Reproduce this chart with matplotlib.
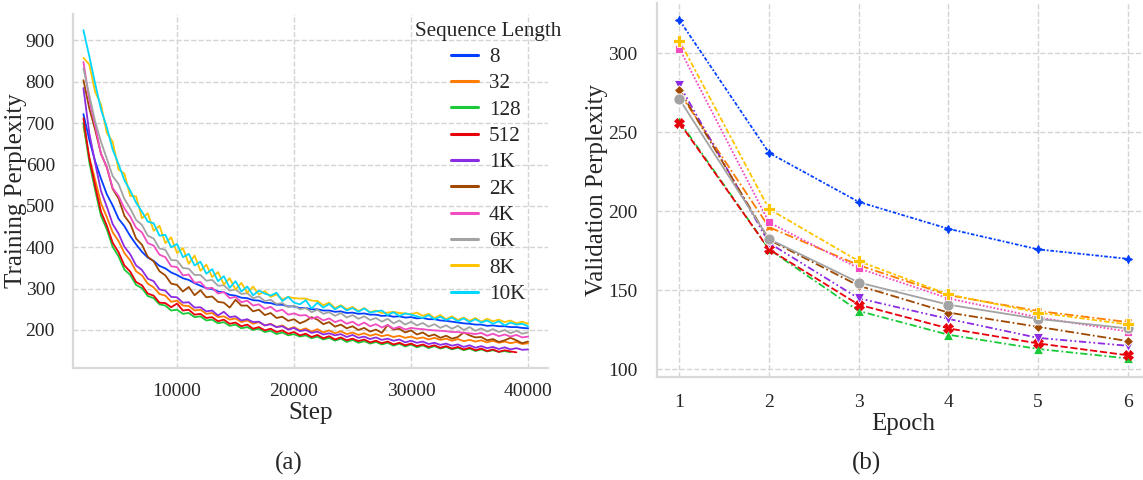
import numpy as np
import matplotlib
matplotlib.use("Agg")
import matplotlib.pyplot as plt
import seaborn as sns

nan = np.nan

# ---- (a) training perplexity, logged every 500 steps ----
steps = list(range(2000, 40001, 500))

ppl_8 = [722, 660, 608, 566, 528, 501, 469, 451, 427, 407,
         389, 375, 367, 355, 349, 339, 333, 325, 321, 313,
         307, 301, 299, 293, 291, 285, 283, 278, 277, 272,
         271, 266, 265, 261, 261, 257, 257, 253, 253, 250,
         250, 247, 247, 244, 245, 241, 242, 239, 240, 237,
         237, 234, 235, 232, 233, 230, 231, 228, 229, 226,
         226, 223, 222, 220, 218, 216, 215, 213, 213, 210,
         211, 209, 209, 207, 207, 205, 204]
ppl_32 = [692, 617, 563, 506, 473, 436, 415, 386, 368, 342,
          332, 312, 303, 287, 283, 268, 271, 259, 258, 247,
          249, 239, 241, 231, 233, 225, 228, 219, 223, 215,
          219, 211, 215, 207, 211, 202, 207, 199, 204, 196,
          202, 194, 199, 192, 197, 190, 194, 188, 192, 186,
          190, 185, 188, 183, 186, 181, 184, 179, 182, 177,
          181, 176, 179, 174, 178, 173, 176, 172, 175, 170,
          174, 169, 172, 168, 171, 166, 168]
ppl_128 = [700, 606, 538, 476, 443, 401, 378, 346, 333, 309,
           301, 282, 277, 262, 259, 247, 249, 239, 241, 231,
           233, 223, 225, 216, 219, 210, 213, 204, 207, 200,
           203, 195, 198, 190, 194, 187, 190, 184, 187, 180,
           184, 177, 181, 174, 179, 171, 176, 169, 173, 167,
           171, 165, 169, 162, 167, 160, 165, 158, 163, 156,
           161, 155, 159, 153, 157, 151, 155, 149, 153, 148,
           151, 147, 149, 146, nan, nan, nan]
ppl_512 = [712, 616, 548, 486, 452, 411, 388, 356, 341, 316,
           308, 288, 283, 266, 265, 255, 264, 247, 249, 237,
           239, 229, 231, 221, 225, 215, 218, 209, 213, 203,
           207, 199, 203, 195, 199, 191, 195, 187, 191, 183,
           188, 180, 185, 177, 182, 175, 179, 173, 177, 170,
           174, 168, 172, 165, 169, 163, 167, 161, 165, 159,
           163, 157, 161, 155, 159, 153, 157, 151, 155, 149,
           153, 147, 151, 148, 146, nan, nan]
ppl_1k = [785, 676, 604, 536, 498, 456, 433, 401, 383, 356,
          345, 324, 318, 298, 295, 280, 279, 266, 267, 254,
          255, 245, 247, 235, 244, 231, 233, 223, 226, 219,
          220, 211, 214, 207, 209, 201, 205, 197, 200, 193,
          196, 189, 192, 187, 190, 183, 188, 181, 184, 178,
          182, 176, 179, 174, 177, 170, 174, 169, 172, 166,
          169, 164, 167, 162, 165, 159, 163, 157, 161, 156,
          159, 154, 158, 153, 156, 152, 153]
ppl_2k = [804, 736, 684, 626, 593, 541, 518, 476, 457, 421,
          406, 377, 366, 342, 332, 312, 309, 293, 304, 284,
          296, 279, 281, 268, 266, 254, 273, 259, 259, 245,
          249, 236, 241, 229, 232, 222, 226, 216, 222, 231,
          225, 214, 219, 208, 213, 204, 209, 200, 205, 196,
          201, 193, 212, 201, 203, 194, 199, 189, 194, 185,
          189, 181, 186, 179, 183, 194, 187, 182, 183, 175,
          178, 171, 175, 181, 175, 168, 172]
ppl_4k = [848, 756, 694, 626, 594, 543, 524, 494, 474, 447,
          436, 410, 404, 382, 376, 354, 352, 332, 334, 314,
          316, 300, 302, 288, 292, 277, 280, 267, 271, 259,
          262, 251, 256, 245, 249, 237, 240, 235, 236, 227,
          232, 223, 228, 219, 224, 215, 220, 211, 218, 209,
          214, 206, 212, 203, 208, 201, 205, 203, 202, 200,
          199, 198, 197, 195, 195, 193, 192, 190, 193, 186,
          191, 185, 189, 184, 188, 182, 184]
ppl_6k = [832, 768, 704, 655, 614, 572, 553, 517, 494, 466,
          454, 428, 421, 397, 394, 369, 368, 350, 348, 333,
          333, 319, 321, 307, 308, 295, 298, 287, 289, 277,
          281, 270, 273, 263, 265, 255, 259, 250, 253, 243,
          249, 239, 243, 234, 241, 230, 236, 227, 233, 224,
          229, 220, 227, 216, 223, 213, 220, 211, 217, 208,
          214, 205, 211, 203, 210, 200, 207, 198, 204, 196,
          202, 195, 200, 192, 198, 191, 194]
ppl_8k = [858, 842, 776, 745, 676, 655, 588, 578, 524, 523,
          470, 482, 440, 452, 410, 424, 386, 398, 360, 380,
          343, 358, 328, 340, 310, 325, 298, 314, 290, 305,
          286, 294, 280, 286, 274, 280, 277, 276, 276, 271,
          270, 260, 266, 253, 260, 250, 256, 246, 253, 243,
          247, 241, 242, 244, 241, 240, 238, 242, 234, 239,
          229, 236, 226, 233, 224, 230, 222, 229, 220, 227,
          221, 225, 219, 223, 216, 220, 215]
ppl_10k = [925, 862, 796, 733, 690, 636, 601, 562, 537, 508,
           486, 462, 458, 428, 430, 400, 408, 376, 384, 356,
           365, 336, 347, 318, 330, 302, 318, 293, 305, 284,
           295, 288, 283, 290, 270, 280, 266, 262, 272, 252,
           266, 254, 263, 250, 258, 247, 253, 244, 252, 242,
           245, 247, 236, 243, 234, 240, 237, 233, 229, 236,
           226, 232, 224, 230, 221, 228, 219, 226, 218, 223,
           215, 221, 211, 218, 213, 215, 209]

seq_labels = ["8", "32", "128", "512", "1K", "2K", "4K", "6K", "8K", "10K"]
train_ppl = [ppl_8, ppl_32, ppl_128, ppl_512, ppl_1k,
             ppl_2k, ppl_4k, ppl_6k, ppl_8k, ppl_10k]

# ---- (b) validation perplexity per epoch (no 10K run) ----
epochs = [1, 2, 3, 4, 5, 6]
val_8 = [321, 237, 206, 189, 176, 170]
val_32 = [275, 190, 166, 147, 137, 130]
val_128 = [257, 176, 137, 122, 113, 107]
val_512 = [256, 176, 141, 126, 116.5, 109]
val_1k = [280, 180, 145, 132, 120, 115]
val_2k = [277, 182, 153, 136, 127, 118]
val_4k = [303, 193, 164, 145, 133, 124]
val_6k = [271, 182.5, 155, 141, 132, 126]
val_8k = [308, 201.5, 168.5, 147.5, 136, 128.5]
val_ppl = [val_8, val_32, val_128, val_512, val_1k,
           val_2k, val_4k, val_6k, val_8k]

markers = [(4, 1, 0), (4, 1, 45), "^", "X", "v", "D", "s", "o", "P"]
marker_sizes = [6, 6, 7, 7, 7, 5, 6, 8, 9]
dashes = [(2, 1, 1, 1), (5, 1.5, 1, 1.5), (4, 1.5, 1, 1.5), (4, 1.5),
          (4, 1.5, 1, 1.5, 1, 1.5), (5, 1.5, 1, 1.5), (1, 1), (), (3, 1.2, 1.5, 1.2)]

sns.set_theme(style="whitegrid", rc={"grid.linestyle": "--", "grid.color": "#d4d4d4"})
plt.rcParams["font.family"] = ["Liberation Serif", "DejaVu Serif"]
colors = sns.color_palette("bright")

fig = plt.figure(figsize=(11.43, 4.8), dpi=100)
ax1 = fig.add_axes([0.0639, 0.2333, 0.4155, 0.7375])
ax2 = fig.add_axes([0.5748, 0.2146, 0.4313, 0.7790])

for vals, lab, c in zip(train_ppl, seq_labels, colors):
    ax1.plot(steps, vals, color=c, lw=1.3, label=lab)

ax1.set_xlim(1111, 41700)
ax1.set_ylim(108, 964)
ax1.set_xticks([10000, 20000, 30000, 40000])
ax1.set_yticks([200, 300, 400, 500, 600, 700, 800, 900])
ax1.set_xlabel("Step", fontsize=18, labelpad=1)
ax1.set_ylabel("Training Perplexity", fontsize=18)
ax1.yaxis.set_label_coords(-0.097, 0.5)
ax1.tick_params(axis="y", labelsize=14, pad=7)
ax1.tick_params(axis="x", labelsize=14, pad=5)
leg = ax1.legend(title="Sequence Length", loc="upper center",
                 bbox_to_anchor=(0.427, 0.99), bbox_transform=fig.transFigure,
                 frameon=False, fontsize=15.2, title_fontsize=15.2,
                 handlelength=1.28, labelspacing=0.31, handletextpad=0.52,
                 borderpad=0.3)
for h in leg.get_lines():
    h.set_linewidth(2.2)

for vals, c, m, ms, d in zip(val_ppl, colors, markers, marker_sizes, dashes):
    ax2.plot(epochs, vals, color=c, lw=1.3, marker=m, ms=ms, dashes=d,
             markeredgecolor=c if m in ("X", (4, 1, 0), (4, 1, 45)) else "white",
             markeredgewidth=0.6)

ax2.set_xlim(0.75, 6.25)
ax2.set_ylim(95.25, 331.75)
ax2.set_xticks(epochs)
ax2.set_yticks([100, 150, 200, 250, 300])
ax2.set_xlabel("Epoch", fontsize=18, labelpad=2)
ax2.set_ylabel("Validation Perplexity", fontsize=18)
ax2.yaxis.set_label_coords(-0.099, 0.5)
ax2.tick_params(axis="y", labelsize=14, pad=8)
ax2.tick_params(axis="x", labelsize=14, pad=6)

for ax in (ax1, ax2):
    sns.despine(ax=ax)
    for s in ("left", "bottom"):
        ax.spines[s].set_color("#d9d9d9")
        ax.spines[s].set_linewidth(1.6)

fig.text(0.2528, 0.035, "(a)", ha="center", va="center", fontsize=18)
fig.text(0.7585, 0.035, "(b)", ha="center", va="center", fontsize=18)

fig.savefig("out.png", dpi=100)
